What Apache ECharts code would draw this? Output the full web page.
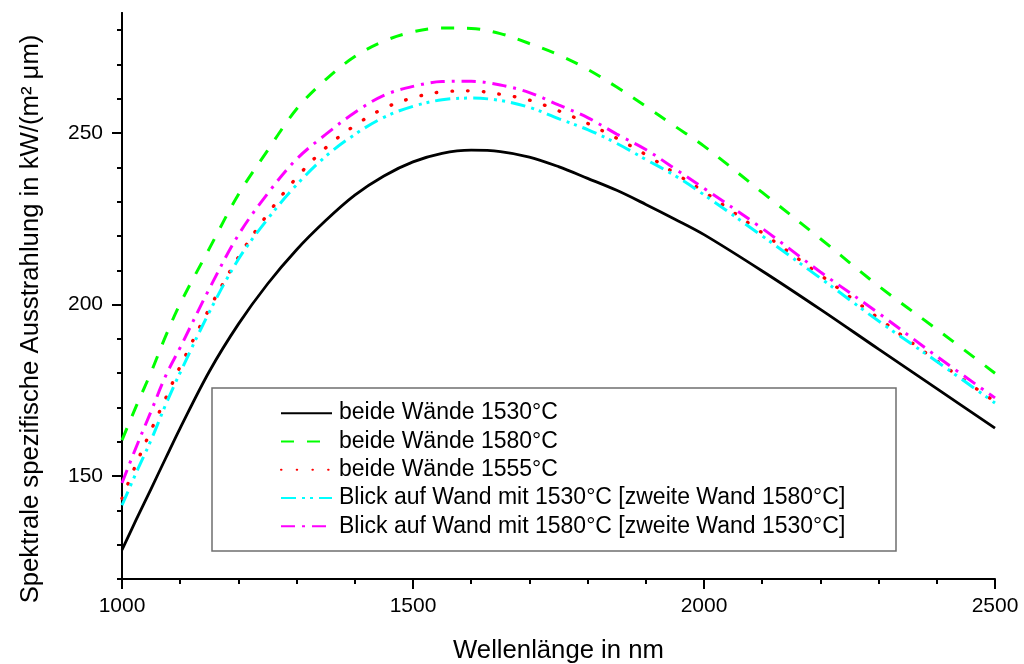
<!DOCTYPE html>
<html>
<head>
<meta charset="utf-8">
<script src="https://cdn.jsdelivr.net/npm/echarts@6/dist/echarts.min.js"></script>
<style>
  html, body { margin: 0; padding: 0; background: #fff; }
  #chart { width: 1024px; height: 664px; }
</style>
</head>
<body>
<div id="chart"></div>
<script>
// ---- data ----
const wavelengths = [1000,1025,1050,1075,1100,1150,1200,1250,1300,1350,1400,1450,1500,1550,1600,1650,1700,1750,1800,1850,1900,1950,2000,2100,2200,2300,2400,2500];
const both1530 = [128.5,137.5,146.3,155.2,164.0,180.5,194.3,206.0,216.0,224.5,231.9,237.5,241.6,244.1,245.0,244.6,243.0,240.2,236.8,233.3,229.2,224.9,220.4,209.8,198.6,187.0,175.5,164.0];
const both1580 = [160.5,170.6,180.3,190.8,200.3,216.3,232.1,244.9,257.0,265.6,272.3,276.8,279.5,280.6,280.5,279.0,276.1,272.8,268.6,263.4,257.8,252.0,246.2,232.7,219.2,205.4,192.8,180.0];
const both1555 = [143.5,153.8,163.4,172.7,182.0,198.8,213.8,226.3,237.0,245.7,252.2,257.2,260.3,262.0,262.3,261.3,259.6,256.5,252.8,248.5,243.7,238.3,232.9,220.9,208.6,196.0,183.6,171.7];
const view1530 = [141.5,151.2,160.5,170.8,180.2,197.8,213.2,224.9,234.9,243.2,249.6,254.6,257.8,259.7,260.2,259.5,257.5,254.2,251.0,247.0,242.3,237.6,232.0,220.0,207.7,195.2,183.4,171.3];
const view1580 = [148.0,158.7,168.9,179.2,187.5,204.6,220.3,232.3,242.4,249.6,256.0,261.0,263.6,265.0,265.1,264.0,261.8,258.2,254.5,249.7,245.2,239.6,233.9,222.2,209.5,197.5,184.9,172.8];
const seriesNames = [
  'beide Wände 1530°C',
  'beide Wände 1580°C',
  'beide Wände 1555°C',
  'Blick auf Wand mit 1530°C [zweite Wand 1580°C]',
  'Blick auf Wand mit 1580°C [zweite Wand 1530°C]'
];
const yMajorTicks = [150, 200, 250];
const yMinorTicks = [120,130,140,150,160,170,180,190,200,210,220,230,240,250,260,270,280];
const xAxisTitle = 'Wellenlänge in nm';
const yAxisTitle = 'Spektrale spezifische Ausstrahlung in kW/(m² μm)';

// ---- chart ----
const FONT = 'Liberation Sans, Arial, sans-serif';
const pair = vals => wavelengths.map((w, i) => [w, vals[i]]);
const styles = [
  { color: '#000000', width: 2.8, type: 'solid' },
  { color: '#00FF00', width: 3, type: [13, 13] },
  { color: '#FF0000', width: 3.4, type: [0.5, 15.2], cap: 'round' },
  { color: '#00FFFF', width: 3, type: [15, 6, 3, 5, 3, 6] },
  { color: '#FF00FF', width: 3, type: [14, 7, 3, 7] }
];
const allValues = [both1530, both1580, both1555, view1530, view1580];

const chart = echarts.init(document.getElementById('chart'), null, { renderer: 'canvas' });
chart.setOption({
  animation: false,
  backgroundColor: '#ffffff',
  grid: { left: 122, right: 29, top: 13, bottom: 85, containLabel: false, outerBoundsMode: 'none' },
  xAxis: {
    type: 'value', min: 1000, max: 2500, interval: 500,
    name: xAxisTitle, nameLocation: 'middle', nameGap: 59,
    nameTextStyle: { fontFamily: FONT, fontSize: 25.7, color: '#000' },
    axisLine: { show: true, onZero: false, lineStyle: { color: '#000', width: 2 } },
    axisTick: { show: true, inside: false, length: 10, lineStyle: { color: '#000', width: 2 } },
    minorTick: { show: true, splitNumber: 5, length: 5, lineStyle: { color: '#000', width: 2 } },
    axisLabel: { fontFamily: FONT, fontSize: 21, color: '#000', margin: 17, formatter: v => String(v) },
    splitLine: { show: false }
  },
  yAxis: [
    {
      type: 'value', min: 120, max: 285, position: 'left',
      name: yAxisTitle, nameLocation: 'middle', nameGap: 78,
      nameTextStyle: { fontFamily: FONT, fontSize: 25.7, color: '#000', padding: [0, 46, 0, 0] },
      axisLine: { show: true, onZero: false, lineStyle: { color: '#000', width: 2 } },
      axisTick: { show: true, inside: false, length: 10, customValues: yMajorTicks, lineStyle: { color: '#000', width: 2 } },
      axisLabel: { fontFamily: FONT, fontSize: 21, color: '#000', margin: 19, customValues: yMajorTicks, formatter: v => String(v) },
      splitLine: { show: false }
    },
    {
      type: 'value', min: 120, max: 285, position: 'left',
      axisLine: { show: true, onZero: false, lineStyle: { color: '#000', width: 2 } },
      axisTick: { show: true, inside: false, length: 5, customValues: yMinorTicks, lineStyle: { color: '#000', width: 2 } },
      axisLabel: { show: false },
      splitLine: { show: false }
    }
  ],
  legend: {
    orient: 'vertical', left: 280, top: 399, padding: 0, itemGap: 0,
    itemWidth: 51, itemHeight: 14, selectedMode: false,
    data: seriesNames,
    itemStyle: { opacity: 0 },
    textStyle: { fontFamily: FONT, fontSize: 23, color: '#000', lineHeight: 28.3, padding: [0, 0, 0, 2] }
  },
  graphic: [{
    type: 'rect', z: 3,
    shape: { x: 212, y: 388, width: 684, height: 163 },
    style: { fill: '#ffffff', stroke: '#6f6f6f', lineWidth: 1.5 }
  }],
  series: allValues.map((vals, i) => ({
    name: seriesNames[i], type: 'line', yAxisIndex: 0,
    data: pair(vals), smooth: 0.35, symbol: 'none', showSymbol: false,
    lineStyle: { color: styles[i].color, width: styles[i].width, type: styles[i].type, cap: styles[i].cap || 'butt' },
    itemStyle: { color: styles[i].color },
    z: 2
  }))
});
</script>
</body>
</html>
